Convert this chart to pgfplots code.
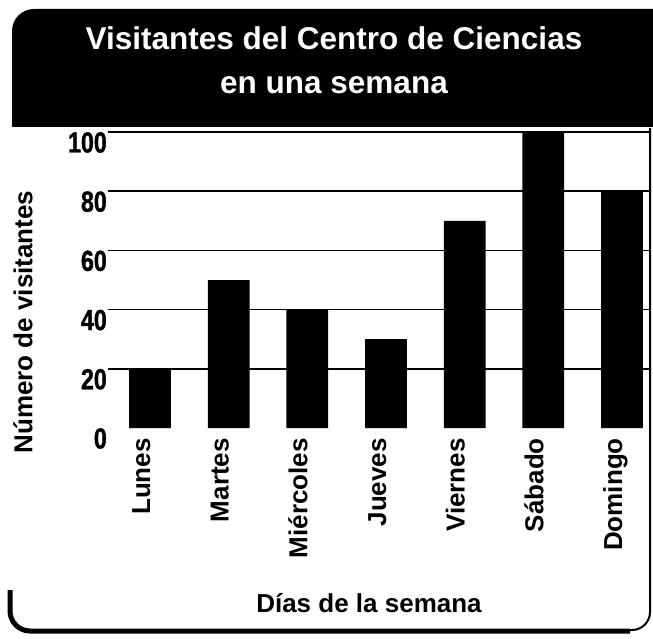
\documentclass[border=0pt]{standalone}
\usepackage{pgfplots}
\pgfplotsset{compat=1.18}
\usepackage{fontspec}
\setmainfont{Liberation Sans}
\newfontfamily\condfont[FakeStretch=0.8, BoldFeatures={FakeBold=1.2}]{Liberation Sans}
\newcommand\ff[1]{\fontsize{#1bp}{#1bp}\selectfont\bfseries}
\begin{document}
\begin{tikzpicture}[x=1bp,y=1bp]
\useasboundingbox (0,0) rectangle (653,-639);
% banner
\fill (12,-127) -- (12,-31) arc[start angle=180,end angle=90,radius=22] -- (653,-9) -- (653,-127) -- cycle;
\node[white, font=\ff{31.5}, anchor=base] at (334,-50) {Visitantes del Centro de Ciencias};
\node[white, font=\ff{31.5}, anchor=base] at (334,-94) {en una semana};
% frame
\draw[line width=2bp] (650,-128) -- (650,-612) arc[start angle=0,end angle=-90,radius=18] -- (28,-630);
\draw[line width=5bp] (630,-631) -- (30,-631) arc[start angle=270,end angle=180,radius=20] -- (10,-590);
\begin{axis}[
  at={(108bp,-428bp)}, anchor=south west,
  scale only axis, width=542bp, height=296bp,
  xmin=-0.534, xmax=6.356, ymin=0, ymax=100,
  axis line style={draw=none},
  major tick length=0pt,
  ytick={20,40,60,80,100},
  yticklabels={20,40,60,80,100},
  extra y ticks={0}, extra y tick labels={0},
  extra y tick style={grid=none},
  ymajorgrids,
  grid style={black, line width=1.6bp},
  yticklabel style={anchor=north east, inner sep=0pt, xshift=-1bp, font=\condfont\ff{29}},
  xtick={0,1,2,3,4,5,6},
  xticklabels={Lunes,Martes,Miércoles,Jueves,Viernes,Sábado,Domingo},
  xticklabel style={rotate=90, anchor=base east, inner sep=0pt, font=\ff{26}},
  xticklabel shift=10bp,
  clip=false,
]
\addplot[ybar, bar width=0.53, fill=black, draw=none] coordinates {
  (0,20) (1,50) (2,40) (3,30) (4,70) (5,100) (6,80)
};
\end{axis}
\node[font=\ff{26}, rotate=90] at (23,-322) {Número de visitantes};
\node[font=\ff{26}, anchor=base] at (369,-612) {Días de la semana};
\end{tikzpicture}
\end{document}
